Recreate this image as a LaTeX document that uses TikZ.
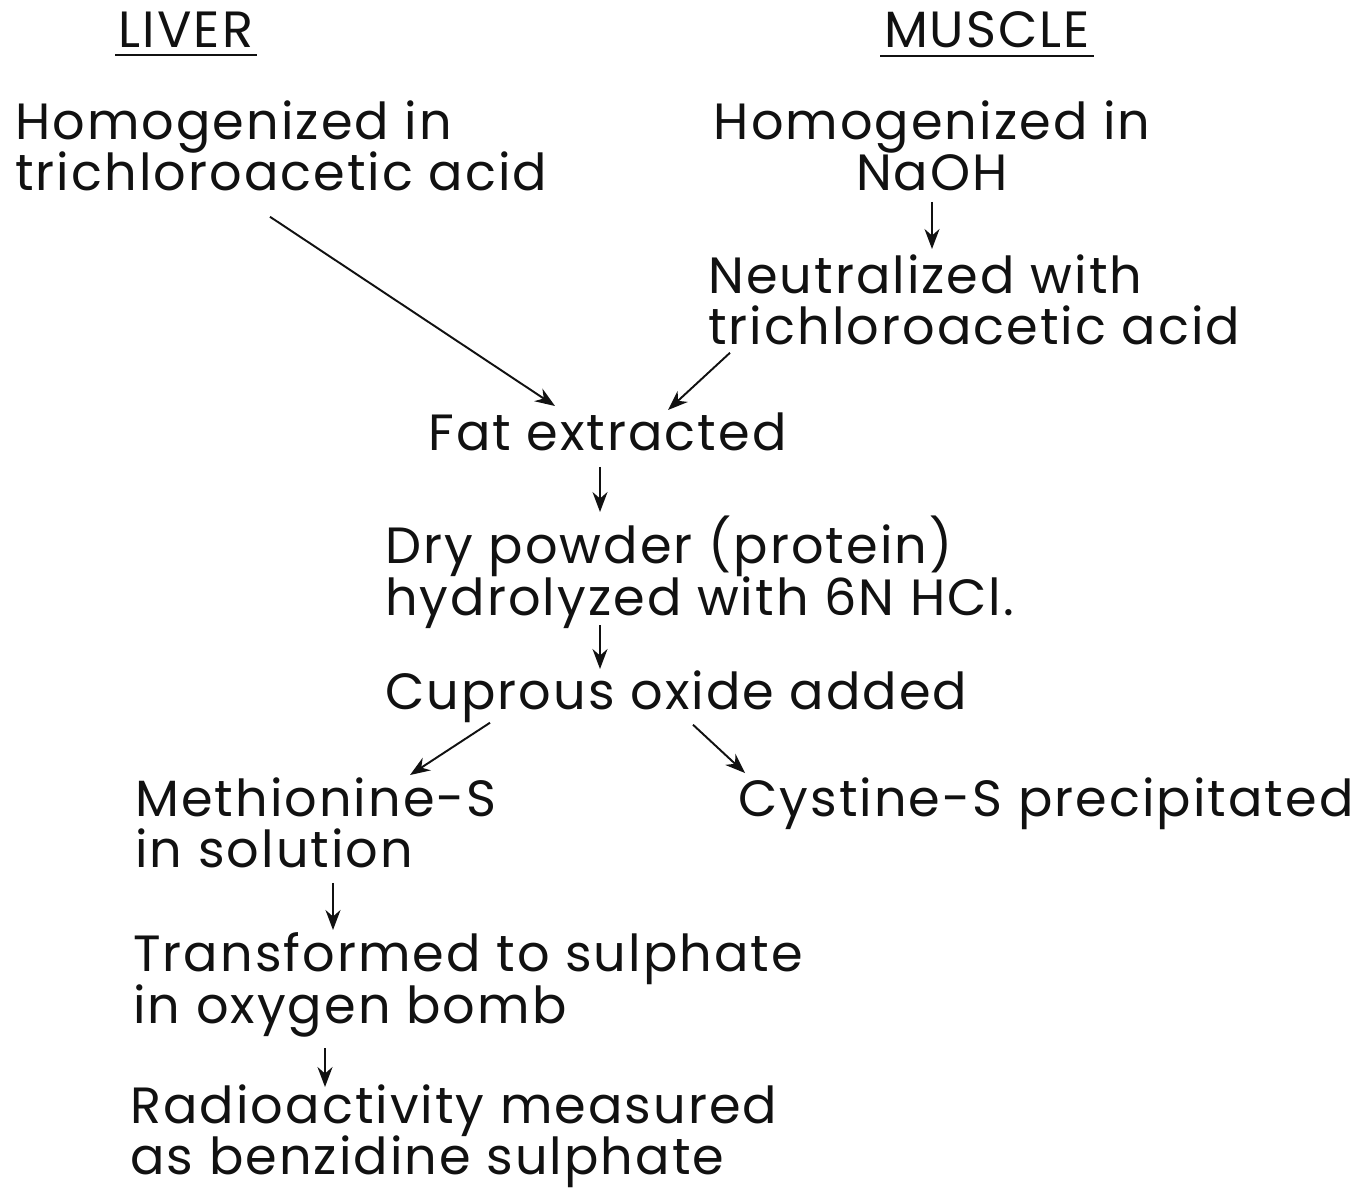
\documentclass[tikz,border=0pt]{standalone}
\usepackage{fontspec}
\setmainfont{Poppins}[LetterSpace=4]
\usetikzlibrary{arrows.meta, calc}
\definecolor{InkBlack}{HTML}{111111}
\lineskiplimit=-20pt
\tikzset{
  steptext/.style={anchor=north west, inner sep=0pt, align=left, text=InkBlack,
    font=\fontsize{29}{29.5}\selectfont},
  headtext/.style={anchor=north, inner sep=2pt, text=InkBlack, font=\fontsize{29}{29}\selectfont},
  flowarrow/.style={-{Stealth[length=4mm, width=3mm]}, line width=1.1pt, draw=InkBlack},
  underrule/.style={line width=1.3pt, draw=InkBlack}
}
\begin{document}
\begin{tikzpicture}[x=0.02cm, y=-0.02cm]
\useasboundingbox (0,0) rectangle (1365,1193);
% column heads
\node[headtext] (liver) at (186,8) {LIVER};
\node[headtext] (muscle) at (987,8) {MUSCLE};
\draw[underrule] ($(liver.south west)+(0,4)$) -- ($(liver.south east)+(0,4)$);
\draw[underrule] ($(muscle.south west)+(0,4)$) -- ($(muscle.south east)+(0,4)$);
% liver branch
\node[steptext] (livhom) at (15,100) {Homogenized in\\trichloroacetic acid};
% muscle branch
\node[steptext, align=center, anchor=north] (mushom) at (932,100) {Homogenized in\\NaOH};
\node[steptext] (neutral) at (708,254) {Neutralized with\\trichloroacetic acid};
% common steps
\node[steptext] (fat) at (428,412) {Fat extracted};
\node[steptext] (powder) at (385,516) {Dry powder (protein)\\hydrolyzed with 6N HCl.};
\node[steptext] (cuprous) at (385,670) {Cuprous oxide added};
\node[steptext] (methio) at (135,777) {Methionine-S\\in solution};
\node[steptext] (cystine) at (738,777) {Cystine-S precipitated};
\node[steptext] (sulph) at (133,932) {Transformed to sulphate\\in oxygen bomb};
\node[steptext] (radio) at (130,1084) {Radioactivity measured\\as benzidine sulphate};
% arrows
\draw[flowarrow] ($(livhom.south west)+(255,25)$) -- ($(fat.north west)+(127,-6)$);
\draw[flowarrow] ($(mushom.south)+(0,10)$) -- ($(neutral.north west)+(224,-5)$);
\draw[flowarrow] ($(neutral.south west)+(22,7)$) -- ($(fat.north west)+(240,-2)$);
\draw[flowarrow] ($(fat.south west)+(172,16)$) -- ($(powder.north west)+(215,-4)$);
\draw[flowarrow] ($(powder.south west)+(215,-4)$) -- ($(cuprous.north west)+(215,-1)$);
\draw[flowarrow] ($(cuprous.south west)+(105,0)$) -- ($(methio.north west)+(275,-2)$);
\draw[flowarrow] ($(cuprous.south west)+(308,2)$) -- ($(cystine.north west)+(7,-4)$);
\draw[flowarrow] ($(methio.south west)+(198,14)$) -- ($(sulph.north west)+(200,-2)$);
\draw[flowarrow] ($(sulph.south west)+(192,11)$) -- ($(radio.north west)+(195,3)$);
\end{tikzpicture}
\end{document}
